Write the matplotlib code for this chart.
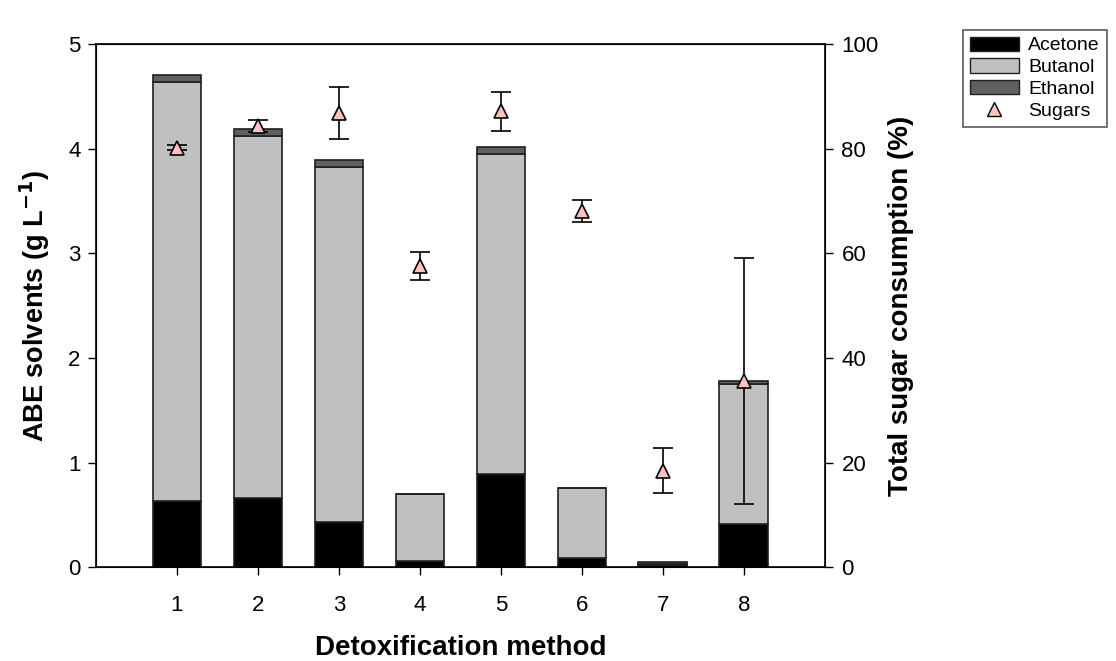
import numpy as np
import matplotlib.pyplot as plt
from matplotlib.lines import Line2D
from matplotlib.patches import Patch

plt.rcParams['font.family'] = ['Liberation Sans', 'DejaVu Sans']

# data
methods = [1, 2, 3, 4, 5, 6, 7, 8]
acetone = [0.63, 0.66, 0.43, 0.06, 0.89, 0.09, 0.02, 0.41]
butanol = [4.01, 3.46, 3.40, 0.64, 3.06, 0.67, 0.01, 1.34]
ethanol = [0.07, 0.07, 0.06, 0.00, 0.07, 0.00, 0.02, 0.03]
sugars = [80.2, 84.4, 86.9, 57.6, 87.2, 68.2, 18.4, 35.6]
sugars_err = [0.5, 1.2, 5.0, 2.7, 3.7, 2.1, 4.3, 23.6]

x = np.array(methods)
acetone = np.array(acetone)
butanol = np.array(butanol)
ethanol = np.array(ethanol)

fig = plt.figure(figsize=(11.16, 6.61), dpi=100)
ax = fig.add_axes([0.086, 0.142, 0.653, 0.791])

w = 0.6
ax.bar(x, acetone, w, color='black', edgecolor='#202020', linewidth=1.2, label='Acetone')
ax.bar(x, butanol, w, bottom=acetone, color='#c0c0c0', edgecolor='#202020', linewidth=1.2,
       label='Butanol')
ax.bar(x, ethanol, w, bottom=acetone + butanol, color='#606060', edgecolor='#202020',
       linewidth=1.2, label='Ethanol')

ax.set_xlim(0, 9)
ax.set_ylim(0, 5)
ax.set_xticks(methods)
ax.set_yticks([0, 1, 2, 3, 4, 5])
ax.tick_params(labelsize=16, direction='out', length=6, width=1)
ax.tick_params(axis='x', pad=14)
ax.tick_params(axis='y', pad=5)
for s in ax.spines.values():
    s.set_linewidth(1.2)
ax.set_xlabel('Detoxification method', fontsize=20, fontweight='bold', labelpad=14)
ax.set_ylabel(r'ABE solvents (g L$^{\mathbf{-1}}$)', fontsize=19.5, fontweight='bold', labelpad=12)

ax2 = ax.twinx()
ax2.set_ylim(0, 100)
ax2.set_yticks([0, 20, 40, 60, 80, 100])
ax2.tick_params(labelsize=16, direction='out', length=6, width=1, pad=6)
ax2.errorbar(x, sugars, yerr=sugars_err, fmt='^', color='black', ecolor='black',
             markerfacecolor='#ffc0c0', markeredgecolor='black', markersize=10,
             markeredgewidth=1.2, elinewidth=1.2, capsize=7, capthick=1.2)
ax2.set_ylabel('Total sugar consumption (%)', fontsize=20, fontweight='bold', labelpad=7)

handles = [Patch(facecolor='black', edgecolor='#202020', label='Acetone'),
           Patch(facecolor='#c0c0c0', edgecolor='#202020', label='Butanol'),
           Patch(facecolor='#606060', edgecolor='#202020', label='Ethanol'),
           Line2D([], [], marker='^', linestyle='none', markerfacecolor='#ffc0c0',
                  markeredgecolor='black', markersize=10, label='Sugars')]
leg = fig.legend(handles=handles, loc='upper left', bbox_to_anchor=(0.863, 0.955),
                 borderaxespad=0, fontsize=14, frameon=True, fancybox=False,
                 edgecolor='#303030', handlelength=2.5, handleheight=0.75,
                 labelspacing=0.2, borderpad=0.35, handletextpad=0.5)
leg.get_frame().set_linewidth(1.2)

fig.savefig('out.png', dpi=100)
